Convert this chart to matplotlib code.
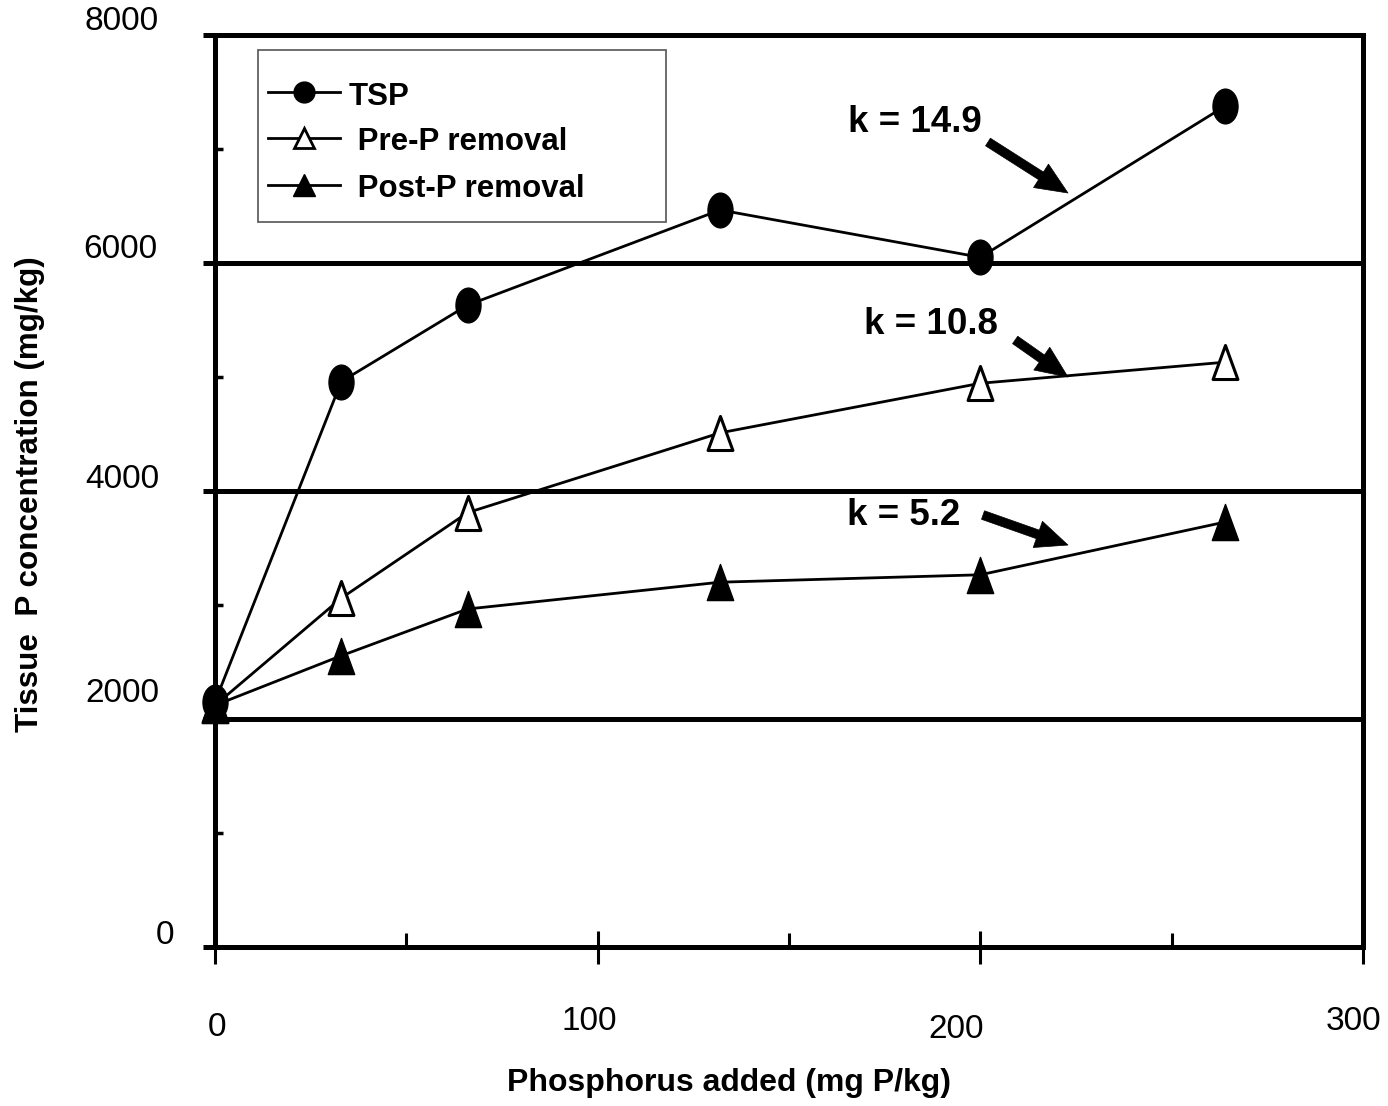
import numpy as np
import matplotlib
matplotlib.use("Agg")
import matplotlib.pyplot as plt
from matplotlib.path import Path
from matplotlib.lines import Line2D
from matplotlib.patches import Rectangle
from matplotlib import transforms
from matplotlib.ticker import FixedLocator

plt.rcParams['font.family'] = ['Liberation Sans', 'DejaVu Sans']

# ---- data ----
p_added = [0, 33, 66, 132, 200, 264]
tsp = [2150, 4960, 5630, 6465, 6050, 7377]
pre_p = [2120, 3060, 3810, 4510, 4945, 5130]
post_p = [2120, 2555, 2965, 3200, 3265, 3728]
series_names = ["TSP", " Pre-P removal", " Post-P removal"]

k_labels = ["k = 14.9", "k = 10.8", "k = 5.2"]
k_text_pos = [(182.9, 7235), (187.1, 5460), (180.0, 3785)]
k_arrow_tail = [(202.0, 7061), (209.1, 5325), (200.7, 3789)]
k_arrow_tip = [(222.9, 6614), (222.9, 5000), (222.9, 3526)]

x_ticks = [0, 100, 200, 300]
x_ticklabels = ["0", "100", "200", "300"]
x_minor = [50, 150, 250]
y_ticks = [0, 2000, 4000, 6000, 8000]
y_ticklabels = ["0", "2000", "4000", "6000", "8000"]
y_minor = [1000, 3000, 5000, 7000]

# ---- figure ----
W, H, DPI = 1388, 1106, 100
fig = plt.figure(figsize=(W / DPI, H / DPI), dpi=DPI)
px = 72.0 / DPI  # points per pixel
AX_L, AX_R, AX_T, AX_B = 215, 1363, 35, 947
ax = fig.add_axes([AX_L / W, 1 - AX_B / H, (AX_R - AX_L) / W, (AX_B - AX_T) / H])
ax.set_xlim(0, 300)
ax.set_ylim(0, 8000)


def axfrac(xp, yp):
    """Pixel position on the canvas -> axes fraction."""
    return (xp - AX_L) / (AX_R - AX_L), (AX_B - yp) / (AX_B - AX_T)


# custom marker shapes: tall ellipse and narrow triangle
circ = Path.unit_circle()
ellipse = Path(circ.vertices * np.array([0.72, 1.0]), circ.codes)
tri = Path([(0, 1), (-0.73, -1), (0.73, -1), (0, 1)],
           [Path.MOVETO, Path.LINETO, Path.LINETO, Path.CLOSEPOLY])

line_kw = dict(color="black", lw=2.0, clip_on=False, zorder=4)
ax.plot(p_added, tsp, marker=ellipse, ms=25, mfc="black", mec="black", mew=1, **line_kw)
ax.plot(p_added, pre_p, marker=tri, ms=24.5, mfc="white", mec="black", mew=2.2, **line_kw)
ax.plot(p_added, post_p, marker=tri, ms=26, mfc="black", mec="black", mew=1, **line_kw)

# spines and grid
for s in ax.spines.values():
    s.set_linewidth(3.6)
    s.set_color("black")
ax.yaxis.set_major_locator(FixedLocator(y_ticks))
ax.yaxis.set_minor_locator(FixedLocator(y_minor))
ax.xaxis.set_major_locator(FixedLocator(x_ticks))
ax.xaxis.set_minor_locator(FixedLocator(x_minor))
ax.yaxis.grid(True, which="major", color="black", lw=3.6, zorder=2)
ax.set_axisbelow(True)
ax.tick_params(axis="y", which="major", direction="out", length=12 * px, width=3.6,
               labelleft=False)
ax.tick_params(axis="y", which="minor", direction="in", length=8 * px, width=2.5)
ax.tick_params(axis="x", which="major", direction="inout", length=33 * px, width=2.2,
               labelbottom=False)
ax.tick_params(axis="x", which="minor", direction="in", length=14 * px, width=2.2)

# tick labels
ylab_tr = transforms.blended_transform_factory(ax.transAxes, ax.transData)
y_dx = [-41, -56, -56, -58, -56]
y_dy = [12, 26, 12, 13, 13]
for v, lab, dx, dy in zip(y_ticks, y_ticklabels, y_dx, y_dy):
    off = transforms.ScaledTranslation(dx / DPI, dy / DPI, fig.dpi_scale_trans)
    ax.text(0, v, lab, transform=ylab_tr + off, ha="right", va="center",
            fontsize=24, clip_on=False)

xlab_tr = transforms.blended_transform_factory(ax.transData, ax.transAxes)
x_dx = [2, -8, -24, -10]
x_dy = [-80, -75, -82, -74]
for v, lab, dx, dy in zip(x_ticks, x_ticklabels, x_dx, x_dy):
    off = transforms.ScaledTranslation(dx / DPI, dy / DPI, fig.dpi_scale_trans)
    ax.text(v, 0, lab, transform=xlab_tr + off, ha="center", va="center",
            fontsize=24, clip_on=False)

# axis titles
fig.text(729 / W, 1 - 1083 / H, "Phosphorus added (mg P/kg)", ha="center", va="center",
         fontsize=23, fontweight="bold")
fig.text(30 / W, 1 - 494 / H, "Tissue  P concentration (mg/kg)", ha="center", va="center",
         rotation=90, fontsize=22.6, fontweight="bold")

# rate constants with arrows
for lab, tp, tail, tip in zip(k_labels, k_text_pos, k_arrow_tail, k_arrow_tip):
    ax.text(tp[0], tp[1], lab, ha="center", va="center", fontsize=26.5,
            fontweight="bold", zorder=6)
    ax.annotate("", xy=tip, xytext=tail,
                arrowprops=dict(arrowstyle="simple,head_length=2.3,head_width=2.0,tail_width=0.65",
                                mutation_scale=10, fc="black", ec="black", lw=0.5,
                                shrinkA=0, shrinkB=0), zorder=6)

# legend box, drawn in axes fraction
x0, y0 = axfrac(258, 222)
x1, y1 = axfrac(666, 50)
ax.add_patch(Rectangle((x0, y0), x1 - x0, y1 - y0, transform=ax.transAxes,
                       fc="white", ec="#555555", lw=1.2, zorder=7, clip_on=False))
legend_styles = [
    dict(marker="o", ms=15, mfc="black", mec="black", mew=1),
    dict(marker="^", ms=15, mfc="white", mec="black", mew=2),
    dict(marker="^", ms=16.5, mfc="black", mec="black", mew=1),
]
row_line_y = [92, 138, 185]
row_base_y = [105, 150, 197]
for name, st, ly, by in zip(series_names, legend_styles, row_line_y, row_base_y):
    xa, ya = axfrac(268, ly)
    xb, _ = axfrac(340, ly)
    xm, _ = axfrac(304, ly)
    ax.add_line(Line2D([xa, xb], [ya, ya], color="black", lw=2,
                       transform=ax.transAxes, zorder=8, clip_on=False))
    ax.add_line(Line2D([xm], [ya], linestyle="none", transform=ax.transAxes,
                       zorder=9, clip_on=False, **st))
    xt, yt = axfrac(349, by)
    ax.text(xt, yt, name, transform=ax.transAxes, ha="left", va="baseline",
            fontsize=22.5, fontweight="bold", zorder=9)

fig.savefig("out.png", dpi=DPI)
